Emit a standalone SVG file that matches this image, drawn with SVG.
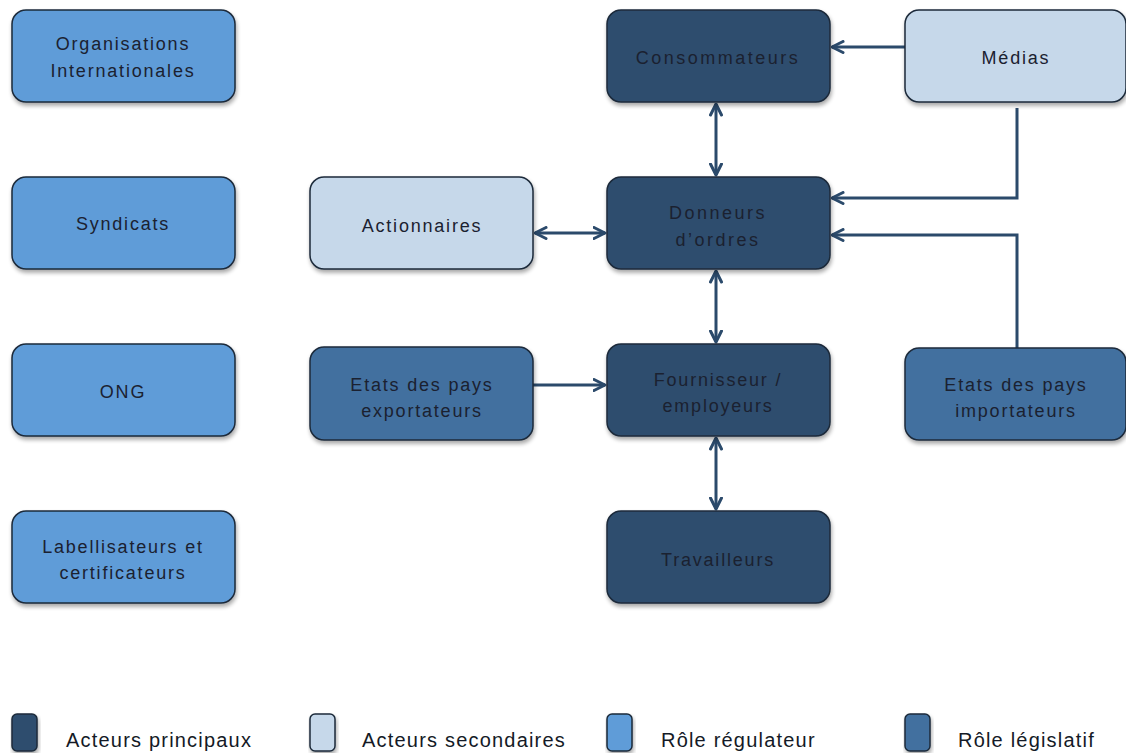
<svg xmlns="http://www.w3.org/2000/svg" width="1126" height="753" viewBox="0 0 1126 753">
<defs>
<filter id="sh" x="-10%" y="-10%" width="125%" height="130%">
<feGaussianBlur in="SourceAlpha" stdDeviation="2"/>
<feOffset dx="1" dy="3"/>
<feComponentTransfer><feFuncA type="linear" slope="0.35"/></feComponentTransfer>
<feMerge><feMergeNode/><feMergeNode in="SourceGraphic"/></feMerge>
</filter>
<marker id="ah" viewBox="0 0 14 14" refX="12.5" refY="7" markerWidth="14" markerHeight="14" markerUnits="userSpaceOnUse" orient="auto-start-reverse">
<path d="M1.5,1.5 L12.5,7 L1.5,12.5" fill="none" stroke="#2b4a6b" stroke-width="3" stroke-linecap="round" stroke-linejoin="round"/>
</marker>
</defs>
<style>
.box{stroke:#1c2a3a;stroke-width:1.5;filter:url(#sh)}
.main{fill:#2f4d6e}
.sec{fill:#c6d8ea}
.reg{fill:#5f9cd8}
.leg{fill:#42709f}
text{font-family:"Liberation Sans",Arial,sans-serif;font-size:18px;fill:#1b2130;text-anchor:middle;letter-spacing:1.8px}
.lt{font-size:20px;text-anchor:start;letter-spacing:1.2px;fill:#141a26}
.c{fill:none;stroke:#2b4a6b;stroke-width:3}
</style>
<g id="connectors">
<path class="c" d="M905,47 H832" marker-end="url(#ah)"/>
<path class="c" d="M716,104 V175" marker-start="url(#ah)" marker-end="url(#ah)"/>
<path class="c" d="M1017,108 V198 H832" marker-end="url(#ah)"/>
<path class="c" d="M1017,348 V235 H832" marker-end="url(#ah)"/>
<path class="c" d="M535,233 H605" marker-start="url(#ah)" marker-end="url(#ah)"/>
<path class="c" d="M716,271 V342" marker-start="url(#ah)" marker-end="url(#ah)"/>
<path class="c" d="M533,385 H605" marker-end="url(#ah)"/>
<path class="c" d="M716,438 V509" marker-start="url(#ah)" marker-end="url(#ah)"/>
</g>
<g id="org"><rect class="box reg" x="12" y="10" width="223" height="92" rx="14"/><text x="123" y="50">Organisations</text><text x="123" y="77">Internationales</text></g>
<g id="syndicats"><rect class="box reg" x="12" y="177" width="223" height="92" rx="14"/><text x="123" y="230">Syndicats</text></g>
<g id="ong"><rect class="box reg" x="12" y="344" width="223" height="92" rx="14"/><text x="123" y="398">ONG</text></g>
<g id="label"><rect class="box reg" x="12" y="511" width="223" height="92" rx="14"/><text x="123" y="553">Labellisateurs et</text><text x="123" y="579">certificateurs</text></g>
<g id="consommateurs"><rect class="box main" x="607" y="10" width="223" height="92" rx="14"/><text x="718" y="64" style="letter-spacing:2.5px">Consommateurs</text></g>
<g id="medias"><rect class="box sec" x="905" y="10" width="221" height="92" rx="14"/><text x="1016" y="64">Médias</text></g>
<g id="actionnaires"><rect class="box sec" x="310" y="177" width="223" height="92" rx="14"/><text x="422" y="232">Actionnaires</text></g>
<g id="donneurs"><rect class="box main" x="607" y="177" width="223" height="92" rx="14"/><text x="718" y="219" style="letter-spacing:2.5px">Donneurs</text><text x="718" y="246" style="letter-spacing:2.5px">d’ordres</text></g>
<g id="exportateurs"><rect class="box leg" x="310" y="347" width="223" height="93" rx="14"/><text x="422" y="391">Etats des pays</text><text x="422" y="417">exportateurs</text></g>
<g id="fournisseur"><rect class="box main" x="607" y="344" width="223" height="92" rx="14"/><text x="718" y="386">Fournisseur /</text><text x="718" y="412">employeurs</text></g>
<g id="importateurs"><rect class="box leg" x="905" y="348" width="221" height="92" rx="14"/><text x="1016" y="391">Etats des pays</text><text x="1016" y="417">importateurs</text></g>
<g id="travailleurs"><rect class="box main" x="607" y="511" width="223" height="92" rx="14"/><text x="718" y="566">Travailleurs</text></g>
<g id="legend">
<rect class="box main" x="12" y="714" width="25" height="37" rx="5"/><text class="lt" x="66" y="747">Acteurs principaux</text>
<rect class="box sec" x="310" y="714" width="25" height="37" rx="5"/><text class="lt" x="362" y="747">Acteurs secondaires</text>
<rect class="box reg" x="607" y="714" width="25" height="37" rx="5"/><text class="lt" x="661" y="747">Rôle régulateur</text>
<rect class="box leg" x="905" y="714" width="25" height="37" rx="5"/><text class="lt" x="958" y="747">Rôle législatif</text>
</g>
</svg>
